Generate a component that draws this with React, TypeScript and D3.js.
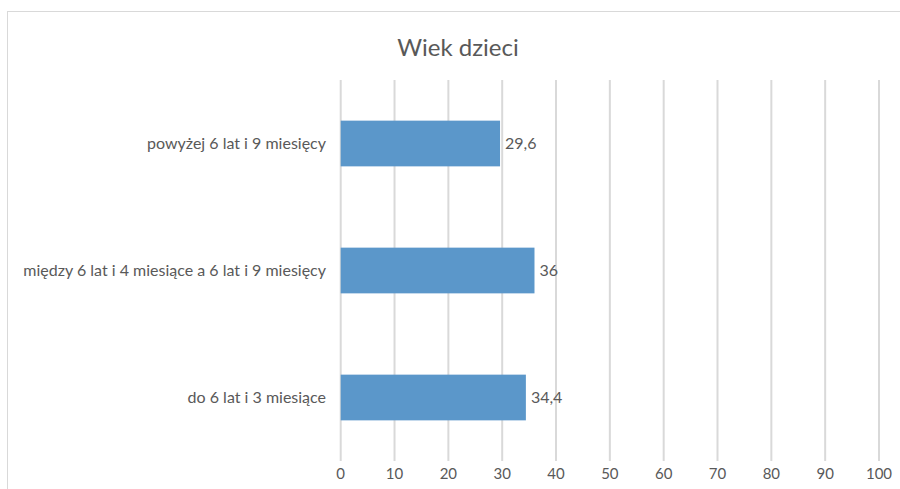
import React from "react";
import * as d3 from "d3";

const categories = [
  "powyżej 6 lat i 9 miesięcy",
  "między 6 lat i 4 miesiące a 6 lat i 9 miesięcy",
  "do 6 lat i 3 miesiące",
];
const values = [29.6, 36, 34.4];
const valueLabels = ["29,6", "36", "34,4"];
const ticks = [0, 10, 20, 30, 40, 50, 60, 70, 80, 90, 100];
const title = "Wiek dzieci";

const W = 900;
const H = 489;
const FONT = "Lato, 'Open Sans', sans-serif";
const TXT = "#595959";

export default function App() {
  const x = d3.scaleLinear().domain([0, 100]).range([340.7, 879]);
  const y = d3.scaleBand().domain(categories).range([80, 461]).paddingInner(0.64).paddingOuter(0.32);
  return (
    <svg width={W} height={H} style={{ position: "absolute", left: 0, top: 0, background: "#fff" }}>
      <rect x={7.5} y={11.5} width={1000} height={600} fill="#fff" stroke="#d9d9d9" strokeWidth={1} />
      <text x={458} y={56} textAnchor="middle" fontFamily={FONT} fontSize={24} fill={TXT}>
        {title}
      </text>
      {ticks.map((t) => (
        <g key={t}>
          <line x1={x(t)} x2={x(t)} y1={80} y2={461} stroke="#d9d9d9" strokeWidth={2} />
          <text x={x(t)} y={479} textAnchor="middle" fontFamily={FONT} fontSize={15} fill={TXT}>
            {t}
          </text>
        </g>
      ))}
      {categories.map((c, i) => {
        const yc = (y(c) as number) + y.bandwidth() / 2;
        return (
          <g key={c}>
            <rect x={x(0)} y={y(c)} width={x(values[i]) - x(0)} height={y.bandwidth()} fill="#5b97ca" />
            <text x={326} y={yc} dy="0.35em" textAnchor="end" fontFamily={FONT} fontSize={16} fill={TXT}>
              {c}
            </text>
            <text x={x(values[i]) + 5} y={yc} dy="0.35em" fontFamily={FONT} fontSize={16} fill={TXT}>
              {valueLabels[i]}
            </text>
          </g>
        );
      })}
    </svg>
  );
}
